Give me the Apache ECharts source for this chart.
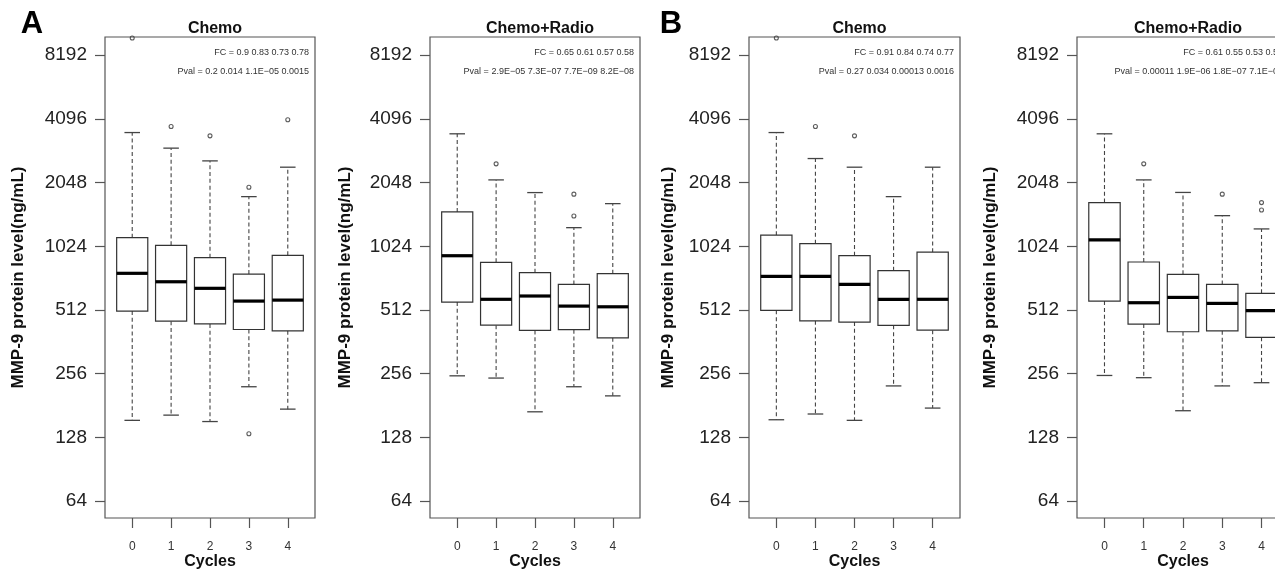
<!DOCTYPE html>
<html>
<head>
<meta charset="utf-8">
<script src="https://cdn.jsdelivr.net/npm/echarts@6.0.0/dist/echarts.min.js"></script>
<style>
  html, body { margin: 0; padding: 0; background: #fff; }
  #chart { width: 1275px; height: 569px; }
</style>
</head>
<body>
<div id="chart"></div>
<script>
// ---------- data ----------
const cycles = [0, 1, 2, 3, 4];
const yTicks = [64, 128, 256, 512, 1024, 2048, 4096, 8192];
const panelTitles = ['Chemo', 'Chemo+Radio', 'Chemo', 'Chemo+Radio'];
const panelLetters = ['A', 'B'];

// five-number summaries per cycle: [lower whisker, Q1, median, Q3, upper whisker]
const aChemoStats = [[154, 506, 763, 1124, 3531], [163, 453, 696, 1035, 2980], [152, 440, 648, 905, 2594], [222, 414, 564, 757, 1758], [174, 408, 570, 928, 2422]];
const aRadioStats = [[250, 558, 924, 1488, 3483], [244, 434, 575, 860, 2109], [169, 410, 596, 768, 1837], [222, 413, 534, 676, 1254], [201, 378, 530, 760, 1629]];
const bChemoStats = [[155, 510, 738, 1155, 3531], [165, 455, 738, 1054, 2661], [154, 449, 677, 924, 2422], [224, 433, 575, 785, 1758], [176, 411, 575, 960, 2422]];
const bRadioStats = [[251, 564, 1097, 1647, 3483], [245, 439, 554, 863, 2109], [171, 404, 587, 755, 1840], [224, 408, 550, 676, 1429], [232, 380, 508, 614, 1237]];

// outliers: [cycle, value]
const aChemoOut = [[0, 9880], [1, 3770], [2, 3407], [3, 1948], [3, 133], [4, 4056]];
const aRadioOut = [[1, 2511], [3, 1806], [3, 1424]];
const bChemoOut = [[0, 9880], [1, 3770], [2, 3407]];
const bRadioOut = [[1, 2511], [3, 1806], [4, 1647], [4, 1521]];

const fcTexts = ['FC = 0.9 0.83 0.73 0.78', 'FC = 0.65 0.61 0.57 0.58', 'FC = 0.91 0.84 0.74 0.77', 'FC = 0.61 0.55 0.53 0.52'];
const pvalTexts = ['Pval = 0.2 0.014 1.1E\u221205 0.0015', 'Pval = 2.9E\u221205 7.3E\u221207 7.7E\u221209 8.2E\u221208', 'Pval = 0.27 0.034 0.00013 0.0016', 'Pval = 0.00011 1.9E\u221206 1.8E\u221207 7.1E\u221208'];

// ---------- layout ----------
const FONT = '"Liberation Sans", Arial, Helvetica, sans-serif';
const grids = [
  { left: 105, top: 37, width: 210, height: 481, nameGap: 78 },
  { left: 430, top: 37, width: 210, height: 481, nameGap: 76 },
  { left: 749, top: 37, width: 211, height: 481, nameGap: 72 },
  { left: 1077, top: 37, width: 212, height: 481, nameGap: 78 }
];
const allStats = [aChemoStats, aRadioStats, bChemoStats, bRadioStats];
const allOut = [aChemoOut, aRadioOut, bChemoOut, bRadioOut];

function renderBox(params, api) {
  const x = api.value(0);
  const lo = api.value(1), q1 = api.value(2), md = api.value(3), q3 = api.value(4), hi = api.value(5);
  const pL = api.coord([x - 0.4, q1]);
  const pR = api.coord([x + 0.4, q3]);
  const pM = api.coord([x, md]);
  const pLo = api.coord([x, lo]);
  const pHi = api.coord([x, hi]);
  const capL = api.coord([x - 0.2, lo])[0];
  const capR = api.coord([x + 0.2, lo])[0];
  const cx = pM[0];
  const dash = { stroke: '#444', lineWidth: 1.1, lineDash: [4, 2.8], fill: null };
  const solid = { stroke: '#444', lineWidth: 1.3, fill: null };
  return {
    type: 'group',
    children: [
      { type: 'line', shape: { x1: cx, y1: pR[1], x2: cx, y2: pHi[1] }, style: dash },
      { type: 'line', shape: { x1: cx, y1: pL[1], x2: cx, y2: pLo[1] }, style: dash },
      { type: 'line', shape: { x1: capL, y1: pHi[1], x2: capR, y2: pHi[1] }, style: solid },
      { type: 'line', shape: { x1: capL, y1: pLo[1], x2: capR, y2: pLo[1] }, style: solid },
      { type: 'rect', shape: { x: pL[0], y: pR[1], width: pR[0] - pL[0], height: pL[1] - pR[1] },
        style: { fill: '#fff', stroke: '#333', lineWidth: 1.2 } },
      { type: 'line', shape: { x1: pL[0], y1: pM[1], x2: pR[0], y2: pM[1] },
        style: { stroke: '#000', lineWidth: 3.2, fill: null } }
    ]
  };
}

const option = {
  animation: false,
  backgroundColor: '#fff',
  textStyle: { fontFamily: FONT },
  title: grids.map((g, i) => ({
    text: panelTitles[i],
    left: g.left + g.width / 2,
    top: 16,
    textAlign: 'center',
    textStyle: { fontFamily: FONT, fontSize: 16, fontWeight: 'bold', color: '#111' }
  })),
  grid: grids.map(g => ({
    left: g.left, top: g.top, width: g.width, height: g.height,
    containLabel: false,
    outerBoundsMode: 'none',
    show: true, borderColor: '#555', borderWidth: 1.2, backgroundColor: 'transparent'
  })),
  xAxis: grids.map((g, i) => ({
    gridIndex: i,
    type: 'value',
    min: -0.7,
    max: 4.7,
    name: 'Cycles',
    nameLocation: 'middle',
    nameGap: 36,
    nameMoveOverlap: false,
    nameTextStyle: { fontFamily: FONT, fontSize: 16, fontWeight: 'bold', color: '#111' },
    axisLine: { show: false, onZero: false },
    splitLine: { show: false },
    axisTick: { show: true, length: 10, customValues: cycles, lineStyle: { color: '#555', width: 1.2 } },
    axisLabel: { show: true, customValues: cycles, margin: 23, fontSize: 12, color: '#333', fontFamily: FONT,
      formatter: v => String(v) }
  })),
  yAxis: grids.map((g, i) => ({
    gridIndex: i,
    type: 'log',
    logBase: 2,
    min: 53.2,
    max: 9990,
    name: 'MMP-9 protein level(ng/mL)',
    nameLocation: 'middle',
    nameGap: g.nameGap,
    nameMoveOverlap: false,
    nameTextStyle: { fontFamily: FONT, fontSize: 17, fontWeight: 'bold', color: '#111' },
    axisLine: { show: false, onZero: false },
    splitLine: { show: false },
    axisTick: { show: true, length: 10, customValues: yTicks, lineStyle: { color: '#555', width: 1.2 } },
    axisLabel: { show: true, customValues: yTicks, margin: 18, fontSize: 19, color: '#222', fontFamily: FONT,
      formatter: v => String(Math.round(v)) }
  })),
  graphic: [].concat(
    [
      { type: 'text', x: 32, y: 24, style: { text: panelLetters[0], align: 'center', verticalAlign: 'middle', fontFamily: FONT, fontSize: 31, fontWeight: 'bold', fill: '#000' } },
      { type: 'text', x: 671, y: 24, style: { text: panelLetters[1], align: 'center', verticalAlign: 'middle', fontFamily: FONT, fontSize: 31, fontWeight: 'bold', fill: '#000' } }
    ],
    grids.map((g, i) => ({ type: 'text', x: g.left + g.width - 6, y: 53, style: { text: fcTexts[i], align: 'right', verticalAlign: 'middle', fontFamily: FONT, fontSize: 9, fill: '#333' } })),
    grids.map((g, i) => ({ type: 'text', x: g.left + g.width - 6, y: 72, style: { text: pvalTexts[i], align: 'right', verticalAlign: 'middle', fontFamily: FONT, fontSize: 9, fill: '#333' } }))
  ),
  series: [].concat(
    allStats.map((stats, i) => ({
      type: 'custom',
      name: panelTitles[i] + ' box',
      xAxisIndex: i,
      yAxisIndex: i,
      renderItem: renderBox,
      encode: { x: 0, y: [1, 2, 3, 4, 5] },
      data: stats.map((s, k) => [cycles[k]].concat(s))
    })),
    allOut.map((pts, i) => ({
      type: 'scatter',
      name: panelTitles[i] + ' outliers',
      xAxisIndex: i,
      yAxisIndex: i,
      symbol: 'circle',
      symbolSize: 4,
      itemStyle: { color: 'rgba(255,255,255,0)', borderColor: '#333', borderWidth: 1.1 },
      data: pts
    }))
  )
};

const chart = echarts.init(document.getElementById('chart'), null, { renderer: 'canvas' });
chart.setOption(option);
</script>
</body>
</html>
